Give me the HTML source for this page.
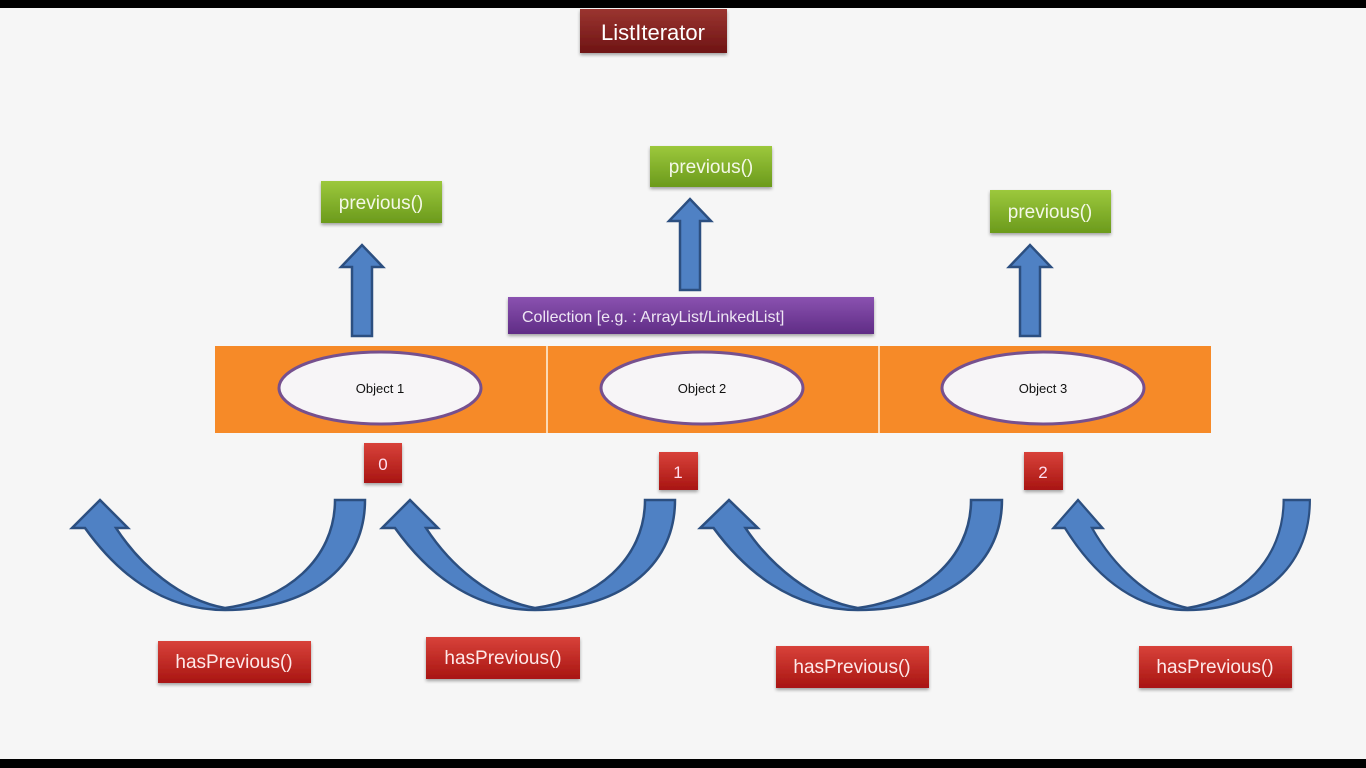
<!DOCTYPE html>
<html><head><meta charset="utf-8"><style>
html,body{margin:0;padding:0;width:1366px;height:768px;overflow:hidden;background:#f6f6f6}
svg{display:block}
text{font-family:"Liberation Sans",sans-serif}
</style></head><body>
<svg width="1366" height="768" viewBox="0 0 1366 768" xmlns="http://www.w3.org/2000/svg">
<defs>
<linearGradient id="red" x1="0" y1="0" x2="0" y2="1"><stop offset="0" stop-color="#d8423a"/><stop offset="1" stop-color="#a81512"/></linearGradient>
<linearGradient id="dred" x1="0" y1="0" x2="0" y2="1"><stop offset="0" stop-color="#9a3530"/><stop offset="1" stop-color="#6e1414"/></linearGradient>
<linearGradient id="grn" x1="0" y1="0" x2="0" y2="1"><stop offset="0" stop-color="#9cc83c"/><stop offset="1" stop-color="#6b9a1c"/></linearGradient>
<linearGradient id="pur" x1="0" y1="0" x2="0" y2="1"><stop offset="0" stop-color="#8a52b0"/><stop offset="1" stop-color="#5f2c85"/></linearGradient>
<filter id="sh" x="-10%" y="-20%" width="120%" height="150%"><feDropShadow dx="0" dy="2" stdDeviation="1.5" flood-color="#000" flood-opacity="0.35"/></filter>
<path id="carc" d="M265,500 C265,570 205,610 125,610 C60,610 15,570 -15,528 L-28,528 L0,500 L28,528 L16,528 C40,565 80,600 125,608 C185,600 235,560 235,500 Z"/>
</defs>
<rect x="0" y="0" width="1366" height="8" fill="#000"/>
<rect x="0" y="759" width="1366" height="9" fill="#000"/>

<!-- ListIterator -->
<rect x="580" y="9" width="147" height="44" fill="url(#dred)" filter="url(#sh)"/>
<text x="653" y="40" font-size="22" fill="#fff" text-anchor="middle">ListIterator</text>

<!-- previous boxes -->
<g filter="url(#sh)">
<rect x="321" y="181" width="121" height="42" fill="url(#grn)"/>
<rect x="650" y="146" width="122" height="41" fill="url(#grn)"/>
<rect x="990" y="190" width="121" height="43" fill="url(#grn)"/>
</g>
<text x="381" y="209" font-size="19" fill="#f4f8e8" text-anchor="middle">previous()</text>
<text x="711" y="173" font-size="19" fill="#f4f8e8" text-anchor="middle">previous()</text>
<text x="1050" y="218" font-size="19" fill="#f4f8e8" text-anchor="middle">previous()</text>

<!-- up arrows -->
<g fill="#4f81c4" stroke="#2c4f80" stroke-width="2.5" stroke-linejoin="miter">
<path d="M352,336 L352,267 L341,267 L362,245 L383,267 L372,267 L372,336 Z"/>
<path d="M680,290 L680,221 L669,221 L690,199 L711,221 L700,221 L700,290 Z"/>
<path d="M1020,336 L1020,267 L1009,267 L1030,245 L1051,267 L1040,267 L1040,336 Z"/>
</g>

<!-- Collection -->
<rect x="508" y="297" width="366" height="37" fill="url(#pur)" filter="url(#sh)"/>
<text x="522" y="322" font-size="16" fill="#eee6f4">Collection [e.g. : ArrayList/LinkedList]</text>

<!-- orange bar -->
<rect x="215" y="346" width="996" height="87" fill="#f68a28"/>
<rect x="546" y="346" width="2" height="87" fill="#fbd9b5"/>
<rect x="878" y="346" width="2" height="87" fill="#fbd9b5"/>
<g fill="#f7f5f7" stroke="#76508e" stroke-width="3">
<ellipse cx="380" cy="388" rx="101" ry="36"/>
<ellipse cx="702" cy="388" rx="101" ry="36"/>
<ellipse cx="1043" cy="388" rx="101" ry="36"/>
</g>
<g font-size="13" fill="#111" text-anchor="middle">
<text x="380" y="393">Object 1</text>
<text x="702" y="393">Object 2</text>
<text x="1043" y="393">Object 3</text>
</g>

<!-- index boxes -->
<g filter="url(#sh)">
<rect x="364" y="443" width="38" height="40" fill="url(#red)"/>
<rect x="659" y="452" width="39" height="38" fill="url(#red)"/>
<rect x="1024" y="452" width="39" height="38" fill="url(#red)"/>
</g>
<g font-size="17" fill="#fbe" text-anchor="middle">
<text x="383" y="470" fill="#fde">0</text>
<text x="678" y="478" fill="#fde">1</text>
<text x="1043" y="478" fill="#fde">2</text>
</g>

<!-- curved arrows -->
<g fill="#4f81c4" stroke="#2c4f80" stroke-width="2.5">
<use href="#carc" transform="translate(100,0)"/>
<use href="#carc" transform="translate(410,0)"/>
<use href="#carc" transform="translate(729,0) scale(1.03,1)"/>
<use href="#carc" transform="translate(1078,0) scale(0.875,1)"/>
</g>

<!-- hasPrevious -->
<g filter="url(#sh)">
<rect x="158" y="641" width="153" height="42" fill="url(#red)"/>
<rect x="426" y="637" width="154" height="42" fill="url(#red)"/>
<rect x="776" y="646" width="153" height="42" fill="url(#red)"/>
<rect x="1139" y="646" width="153" height="42" fill="url(#red)"/>
</g>
<g font-size="19" fill="#fde8e8" text-anchor="middle">
<text x="234" y="668">hasPrevious()</text>
<text x="503" y="664">hasPrevious()</text>
<text x="852" y="673">hasPrevious()</text>
<text x="1215" y="673">hasPrevious()</text>
</g>
</svg>
</body></html>
